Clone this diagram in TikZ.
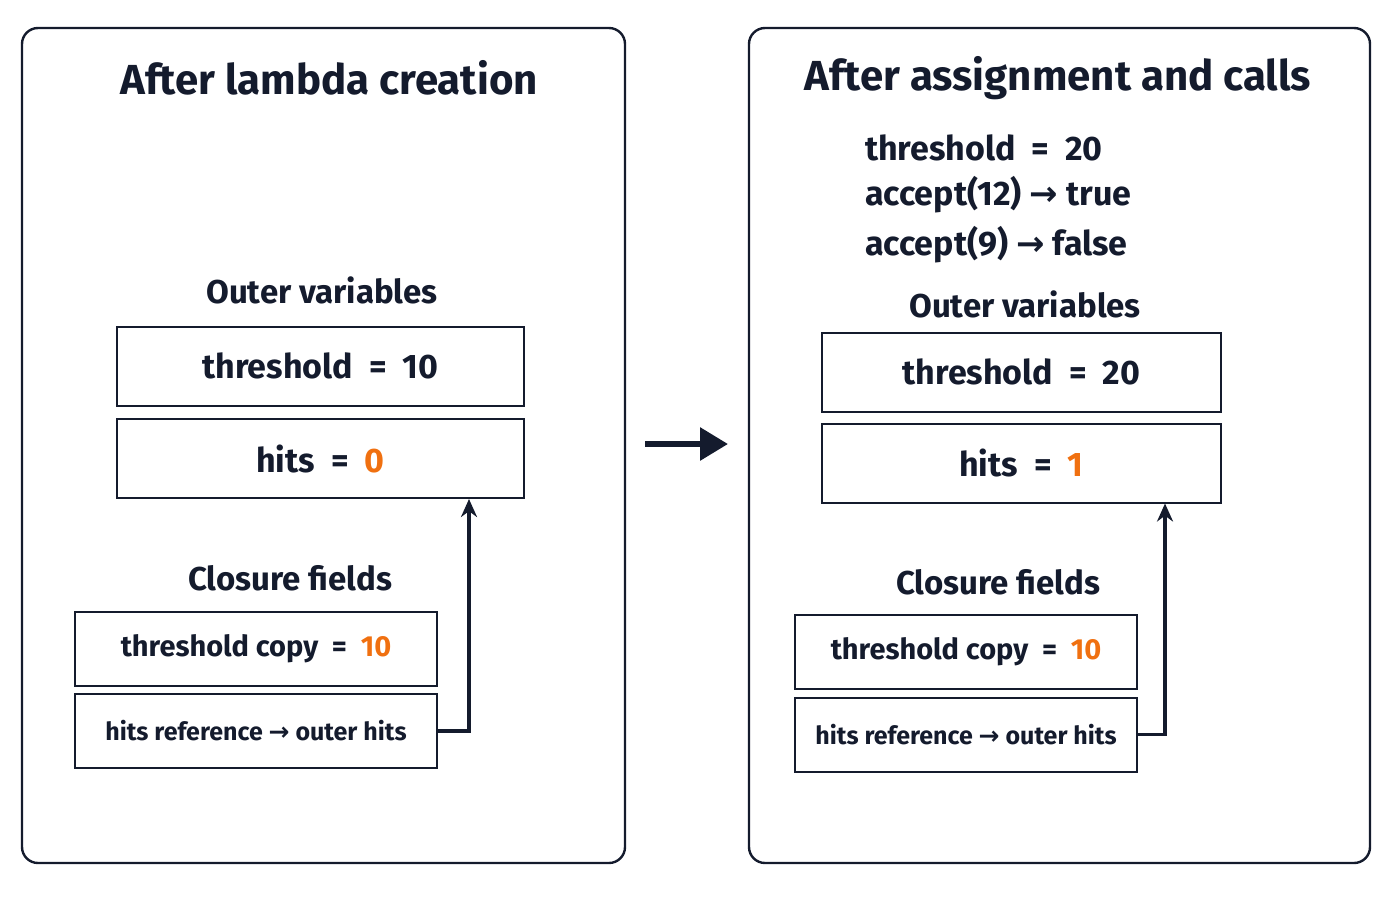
\documentclass[tikz,border=0pt]{standalone}
\usepackage{fontspec}
\setmainfont{Fira Sans}
\newfontfamily\symfont{DejaVu Sans}
\usetikzlibrary{arrows.meta}
\definecolor{ink}{HTML}{141B2D}
\definecolor{hot}{HTML}{F07010}
\newcommand{\ar}{{\symfont\bfseries\char"2192}}
\begin{document}
\begin{tikzpicture}[x=0.5pt,y=-0.5pt,ink,
  panel/.style={draw,line width=1.2pt,rounded corners=8pt},
  varbox/.style={draw,line width=1pt,minimum width=203.5pt,minimum height=39.5pt,font=\fontsize{17}{20}\selectfont\bfseries},
  fieldbox/.style={draw,line width=1pt,minimum width=181pt,minimum height=37pt,font=\fontsize{14.5}{17}\selectfont\bfseries},
  title/.style={font=\fontsize{21}{25}\selectfont\bfseries},
  label/.style={font=\fontsize{16.5}{20}\selectfont\bfseries},
  info/.style={font=\fontsize{17}{20}\selectfont\bfseries,anchor=west},
  link/.style={-{Stealth[length=9pt,width=8pt]},line width=1.8pt}]
\useasboundingbox (0,0) rectangle (1400,900);
% left panel
\draw[panel] (22,28) rectangle (625,863);
\node[title] (t1) at (329,78) {After lambda creation};
\node[label] (o1) at (322,290) {Outer variables};
\node[varbox] (th1) at (320.5,366) {threshold \ = \ 10};
\node[varbox] (hi1) at (320.5,458.5) {hits \ = \ \textcolor{hot}{0}};
\node[label] (c1) at (290,578) {Closure fields};
\node[fieldbox] (tc1) at (256,649) {threshold copy \ = \ \textcolor{hot}{10}};
\node[fieldbox,font=\fontsize{12.5}{15}\selectfont\bfseries] (hr1) at (256,731) {hits reference \ar\ outer hits};
\coordinate (e1) at (469,731);
\draw[link] (hr1.east) -- (e1) -- (e1 |- hi1.south);
% middle arrow
\coordinate (m1) at (645,444);
\coordinate (m2) at (728,444);
\draw[-{Triangle[length=14pt,width=16pt]},line width=3pt] (m1) -- (m2);
% right panel
\draw[panel] (749,28) rectangle (1370,863);
\node[title] (t2) at (1058,78) {After assignment and calls};
\node[info] (l1) at (858,148) {threshold \ = \ 20};
\node[info] (l2) at (858,195) {accept(12) \ar\ true};
\node[info] (l3) at (858,245) {accept(9) \ar\ false};
\node[label] (o2) at (1025,304) {Outer variables};
\node[varbox,minimum width=199.5pt] (th2) at (1021.5,372) {threshold \ = \ 20};
\node[varbox,minimum width=199.5pt] (hi2) at (1021.5,463) {hits \ = \ \textcolor{hot}{1}};
\node[label] (c2) at (998,582) {Closure fields};
\node[fieldbox,minimum width=171pt] (tc2) at (966,652) {threshold copy \ = \ \textcolor{hot}{10}};
\node[fieldbox,minimum width=171pt,font=\fontsize{12.5}{15}\selectfont\bfseries] (hr2) at (966,734.5) {hits reference \ar\ outer hits};
\coordinate (e2) at (1165,734.5);
\draw[link] (hr2.east) -- (e2) -- (e2 |- hi2.south);
\end{tikzpicture}
\end{document}
